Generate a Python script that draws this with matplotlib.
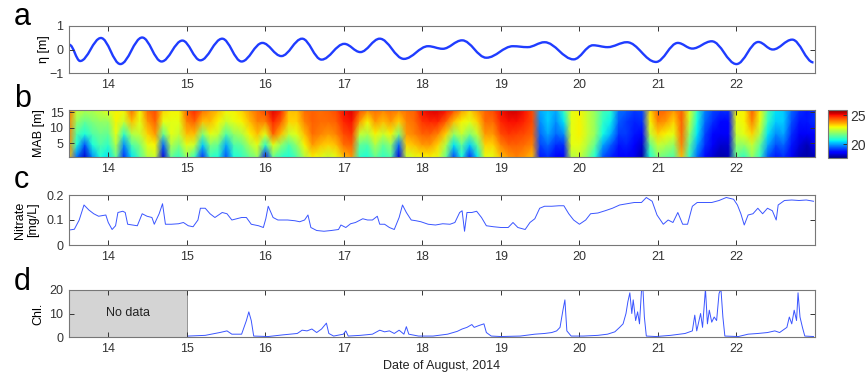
import numpy as np
import matplotlib
matplotlib.use("Agg")
import matplotlib.pyplot as plt
from matplotlib.path import Path
from matplotlib.patches import PathPatch

plt.rcParams['font.family'] = ['Liberation Sans', 'DejaVu Sans']

# ---- a: sea surface elevation, successive highs and lows
tide_day = [13.506, 13.642, 13.907, 14.154, 14.432, 14.679, 14.944, 15.173, 15.451, 15.698,
            15.963, 16.204, 16.469, 16.716, 17.006, 17.210, 17.457, 17.765, 18.074, 18.259,
            18.506, 18.815, 19.154, 19.340, 19.556, 19.926, 20.173, 20.358, 20.605, 20.975,
            21.253, 21.438, 21.685, 22.000, 22.278, 22.463, 22.710, 22.981]
tide_eta = [0.20, -0.49, 0.49, -0.62, 0.51, -0.51, 0.38, -0.46, 0.46, -0.51,
            0.28, -0.28, 0.46, -0.43, 0.24, -0.11, 0.46, -0.40, 0.14, 0.03,
            0.39, -0.35, 0.14, 0.10, 0.31, -0.42, 0.18, 0.10, 0.31, -0.53,
            0.28, 0.04, 0.35, -0.62, 0.32, 0.00, 0.42, -0.55]

# ---- b: temperature by height above bed, one column per 0.1 day from 13.5
mab_levels = [0.5, 4.5, 8.0, 12.0, 15.7]
temp_mab01 = [23.5,19.5,18.2,19.8,20.8,20.5,21.5,19.0,20.5,21.3,
              22.3,22.5,18.3,21.5,21.0,22.0,21.0,19.0,21.0,20.8,
              19.3,20.8,21.0,21.5,22.0,18.8,21.5,21.0,20.8,21.3,
              22.3,23.0,22.8,22.5,22.8,23.5,23.8,21.0,20.8,21.5,
              21.0,21.3,18.3,22.5,22.8,23.0,23.0,22.8,21.5,19.2,
              20.8,19.0,20.5,22.8,22.8,23.5,23.8,24.0,23.8,23.5,
              18.8,19.0,18.5,18.5,22.3,22.5,21.8,20.8,19.3,18.9,
              18.6,18.6,18.4,17.9,20.8,21.8,21.5,21.3,23.5,21.0,
              19.5,18.7,18.2,17.9,18.0,21.5,21.0,22.0,21.0,19.3,
              18.8,19.0,18.5,18.0,17.9,18.0]
temp_mab05 = [23.8,20.8,19.3,20.8,21.3,21.0,22.3,19.8,21.3,21.8,
              22.8,23.0,19.5,22.3,21.8,22.8,22.5,20.3,21.8,21.5,
              20.0,21.3,21.5,22.3,22.8,21.0,22.8,22.0,21.3,22.0,
              23.0,23.8,23.5,23.3,23.5,24.2,24.3,21.5,21.3,22.3,
              21.5,22.0,19.5,23.3,23.5,23.8,23.8,23.3,22.3,20.5,
              21.5,20.3,21.5,23.3,23.3,24.0,24.3,24.3,24.2,24.0,
              19.2,19.5,19.0,19.0,22.8,22.8,22.3,21.5,20.0,19.4,
              18.8,18.9,18.6,18.2,21.5,22.5,22.3,22.0,24.0,21.5,
              20.0,19.0,18.5,18.2,18.2,22.0,22.0,22.5,21.5,20.0,
              19.3,19.5,18.8,18.3,18.0,18.5]
temp_mab08 = [24.0,21.3,20.8,21.3,21.6,21.5,22.8,21.0,22.3,22.5,
              23.3,23.8,21.5,22.8,22.5,23.5,23.5,21.8,22.8,22.5,
              21.3,22.0,22.3,23.0,23.5,22.8,24.3,23.5,22.5,22.8,
              23.5,24.2,24.0,23.8,24.0,24.5,24.7,22.5,22.3,23.0,
              22.5,23.0,21.8,23.8,24.0,24.3,24.3,24.0,23.3,22.0,
              22.5,21.8,22.5,23.8,23.8,24.5,24.7,24.6,24.5,24.3,
              19.5,20.0,19.5,19.8,22.8,23.0,22.5,22.0,20.7,20.1,
              19.1,19.1,18.8,18.7,22.5,23.3,23.0,22.8,24.2,22.0,
              20.5,19.2,18.7,18.5,18.5,22.5,22.8,23.3,22.3,20.5,
              19.8,20.0,19.0,18.5,18.5,18.7]
temp_mab12 = [24.0,22.0,21.5,21.8,22.0,22.0,23.0,22.5,23.5,22.8,
              23.8,24.3,22.8,22.8,22.8,24.0,24.3,23.5,23.5,23.0,
              22.5,22.8,23.0,23.5,24.0,24.0,24.8,24.3,23.3,23.3,
              24.0,24.3,24.2,24.2,24.3,24.8,25.0,23.8,23.0,23.8,
              23.5,23.8,23.3,24.0,24.2,24.7,24.8,24.8,24.3,23.5,
              23.0,22.8,23.3,24.2,24.2,24.8,25.0,25.0,24.8,24.5,
              19.8,20.3,19.8,20.5,22.8,23.0,22.5,22.0,21.0,20.6,
              19.4,19.1,18.9,19.0,23.0,24.0,23.8,23.3,24.3,22.5,
              20.7,19.5,19.0,18.7,18.7,22.8,23.0,24.0,22.8,21.0,
              20.3,20.3,19.3,18.8,18.8,19.0]
temp_mab16 = [24.2,22.5,22.3,22.3,22.5,22.8,23.0,23.0,24.2,23.0,
              24.2,24.5,23.3,23.0,23.0,24.3,24.8,24.2,23.8,23.5,
              23.0,23.0,23.3,23.8,24.2,24.5,25.2,24.8,23.5,23.5,
              24.2,24.3,24.2,24.3,24.5,25.0,25.2,24.5,24.0,24.2,
              24.0,24.2,24.0,24.2,24.3,25.0,25.2,25.2,25.0,24.5,
              23.8,23.3,23.8,24.3,24.5,25.0,25.3,25.3,25.0,24.5,
              20.0,20.3,20.0,21.0,22.8,23.0,22.5,22.0,21.2,20.9,
              19.6,19.4,19.1,19.2,23.3,24.3,24.2,23.8,24.3,22.8,
              21.0,19.7,19.2,19.0,19.0,23.0,23.0,24.3,23.0,21.3,
              20.5,20.3,19.5,19.0,18.8,19.0]

# ---- c: nitrate
nitrate_day = [13.506, 13.568, 13.630, 13.691, 13.753, 13.815, 13.877, 13.969, 14.000, 14.049,
               14.093, 14.123, 14.185, 14.216, 14.247, 14.309, 14.370, 14.432, 14.494, 14.556,
               14.586, 14.648, 14.691, 14.728, 14.802, 14.895, 14.957, 15.019, 15.080, 15.142,
               15.173, 15.235, 15.296, 15.358, 15.451, 15.512, 15.574, 15.636, 15.698, 15.759,
               15.821, 15.914, 15.975, 16.006, 16.037, 16.099, 16.160, 16.222, 16.284, 16.377,
               16.438, 16.500, 16.543, 16.580, 16.654, 16.747, 16.840, 16.932, 16.963, 17.025,
               17.086, 17.148, 17.241, 17.302, 17.364, 17.426, 17.457, 17.519, 17.580, 17.642,
               17.704, 17.747, 17.796, 17.858, 17.920, 17.981, 18.074, 18.167, 18.259, 18.352,
               18.414, 18.475, 18.506, 18.537, 18.568, 18.630, 18.691, 18.753, 18.815, 18.907,
               19.000, 19.093, 19.154, 19.216, 19.309, 19.370, 19.432, 19.494, 19.556, 19.648,
               19.741, 19.802, 19.864, 19.926, 20.000, 20.080, 20.142, 20.235, 20.327, 20.420,
               20.512, 20.605, 20.698, 20.790, 20.852, 20.926, 20.988, 21.068, 21.130, 21.191,
               21.253, 21.315, 21.377, 21.438, 21.500, 21.593, 21.685, 21.778, 21.870, 21.963,
               22.012, 22.056, 22.099, 22.148, 22.210, 22.272, 22.333, 22.395, 22.457, 22.506,
               22.531, 22.611, 22.704, 22.796, 22.889, 22.981]
nitrate = [0.060, 0.063, 0.100, 0.160, 0.140, 0.125, 0.115, 0.120, 0.090, 0.062,
           0.077, 0.130, 0.135, 0.130, 0.083, 0.080, 0.077, 0.125, 0.115, 0.110,
           0.083, 0.125, 0.165, 0.083, 0.083, 0.085, 0.090, 0.077, 0.073, 0.100,
           0.147, 0.147, 0.125, 0.110, 0.130, 0.125, 0.100, 0.105, 0.110, 0.110,
           0.083, 0.077, 0.070, 0.105, 0.155, 0.110, 0.100, 0.100, 0.100, 0.097,
           0.093, 0.100, 0.120, 0.070, 0.058, 0.055, 0.058, 0.062, 0.080, 0.070,
           0.085, 0.090, 0.105, 0.100, 0.100, 0.115, 0.083, 0.083, 0.070, 0.062,
           0.110, 0.160, 0.130, 0.100, 0.097, 0.093, 0.083, 0.080, 0.085, 0.083,
           0.090, 0.130, 0.137, 0.055, 0.130, 0.130, 0.135, 0.110, 0.077, 0.073,
           0.070, 0.070, 0.090, 0.070, 0.062, 0.090, 0.105, 0.147, 0.155, 0.155,
           0.157, 0.157, 0.125, 0.100, 0.083, 0.100, 0.125, 0.128, 0.137, 0.147,
           0.160, 0.165, 0.170, 0.170, 0.190, 0.175, 0.120, 0.083, 0.100, 0.090,
           0.130, 0.083, 0.083, 0.155, 0.170, 0.170, 0.170, 0.178, 0.190, 0.183,
           0.160, 0.125, 0.080, 0.120, 0.125, 0.147, 0.125, 0.147, 0.137, 0.100,
           0.160, 0.178, 0.180, 0.178, 0.180, 0.175]

# ---- d: chlorophyll (record starts on the 15th)
chl_day = [15.019, 15.235, 15.420, 15.512, 15.574, 15.698, 15.759, 15.790, 15.821, 15.852,
           16.037, 16.222, 16.407, 16.469, 16.531, 16.593, 16.654, 16.716, 16.778, 16.809,
           16.870, 16.994, 17.025, 17.056, 17.210, 17.364, 17.457, 17.519, 17.580, 17.642,
           17.704, 17.765, 17.796, 17.827, 17.951, 18.136, 18.321, 18.444, 18.506, 18.568,
           18.630, 18.660, 18.722, 18.784, 18.815, 18.877, 19.000, 19.247, 19.432, 19.556,
           19.648, 19.710, 19.753, 19.790, 19.815, 19.840, 19.895, 20.049, 20.235, 20.358,
           20.451, 20.512, 20.556, 20.593, 20.617, 20.642, 20.667, 20.685, 20.716, 20.741,
           20.765, 20.790, 20.809, 20.827, 20.852, 20.975, 21.160, 21.346, 21.438, 21.469,
           21.494, 21.543, 21.568, 21.605, 21.630, 21.654, 21.685, 21.716, 21.747, 21.778,
           21.802, 21.827, 21.852, 22.025, 22.148, 22.272, 22.395, 22.488, 22.549, 22.642,
           22.673, 22.704, 22.735, 22.765, 22.784, 22.809, 22.840, 22.870, 22.981]
chl = [0.4, 0.7, 1.9, 2.6, 1.2, 1.2, 7.0, 10.7, 7.0, 0.4,
       0.2, 0.9, 1.5, 2.9, 2.6, 3.4, 1.9, 3.4, 5.9, 1.5,
       0.4, 1.2, 2.6, 0.4, 0.7, 1.2, 2.9, 2.2, 2.6, 1.5,
       2.9, 1.2, 4.4, 1.2, 0.4, 0.4, 1.2, 2.4, 3.4, 4.1,
       5.3, 4.1, 4.9, 5.6, 1.9, 0.4, 0.2, 0.4, 1.2, 1.5,
       1.9, 2.6, 4.1, 11.4, 15.8, 2.6, 0.4, 0.4, 0.7, 1.2,
       2.2, 4.1, 5.6, 10.0, 15.0, 18.8, 10.0, 15.8, 7.0, 10.7,
       5.6, 19.5, 20.5, 8.5, 0.4, 0.2, 0.7, 1.5, 2.6, 9.3,
       2.6, 10.0, 4.1, 20.5, 5.6, 11.4, 6.3, 8.5, 7.0, 18.5,
       20.5, 8.5, 0.4, 0.2, 1.2, 1.5, 1.9, 2.6, 1.9, 4.1,
       8.5, 5.6, 11.4, 7.0, 18.8, 8.5, 4.1, 0.4, 0.2]

day_ticks = [14, 15, 16, 17, 18, 19, 20, 21, 22]

W, H = 865, 375
fig = plt.figure(figsize=(W / 100, H / 100), dpi=100)


def axes_px(left, top, right, bottom):
    return fig.add_axes([left / W, 1 - bottom / H, (right - left) / W, (bottom - top) / H])


def style(ax):
    ax.set_xlim(13.5, 23.0)
    ax.set_xticks(day_ticks)
    ax.tick_params(direction='in', top=True, right=True, length=3.5, width=0.7,
                   labelsize=9, colors='#333333', pad=4)
    for s in ax.spines.values():
        s.set_color('#777777')
        s.set_linewidth(0.8)


line_blue = '#1f3cff'

# panel a
ax_a = axes_px(69, 26, 815, 73)
k = 0.364
verts = [(tide_day[0], tide_eta[0])]
codes = [Path.MOVETO]
for i in range(len(tide_day) - 1):
    dt = tide_day[i + 1] - tide_day[i]
    verts += [(tide_day[i] + k * dt, tide_eta[i]),
              (tide_day[i + 1] - k * dt, tide_eta[i + 1]),
              (tide_day[i + 1], tide_eta[i + 1])]
    codes += [Path.CURVE4] * 3
ax_a.add_patch(PathPatch(Path(verts, codes), fill=False, ec=line_blue, lw=1.7))
style(ax_a)
ax_a.set_ylim(-1, 1)
ax_a.set_yticks([-1, 0, 1])
ax_a.set_ylabel('η [m]', fontsize=9, va='center')
ax_a.yaxis.set_label_coords(-0.034, 0.5)

# panel b
ax_b = axes_px(69, 110, 815, 157)
grid_day = 13.5 + 0.1 * np.arange(len(temp_mab01))
temp = np.array([temp_mab01, temp_mab05, temp_mab08, temp_mab12, temp_mab16])
mesh = ax_b.pcolormesh(grid_day, mab_levels, temp, shading='gouraud', cmap='jet',
                       vmin=17.6, vmax=25.9, rasterized=True)
style(ax_b)
ax_b.set_ylim(0.5, 15.7)
ax_b.set_yticks([5, 10, 15])
ax_b.set_ylabel('MAB [m]', fontsize=9, va='center')
ax_b.yaxis.set_label_coords(-0.040, 0.5)

cax = axes_px(828, 110, 847, 158)
cb = fig.colorbar(mesh, cax=cax, ticks=[20, 25])
cb.ax.tick_params(direction='in', length=3, width=0.7, labelsize=10, colors='#333333', pad=2)
cb.outline.set_edgecolor('#777777')
cb.outline.set_linewidth(0.8)

# panel c
ax_c = axes_px(69, 195, 815, 245)
ax_c.plot(nitrate_day, nitrate, color='#3a55ff', lw=0.7)
style(ax_c)
ax_c.set_ylim(0, 0.2)
ax_c.set_yticks([0, 0.1, 0.2])
ax_c.set_yticklabels(['0', '0.1', '0.2'])
ax_c.set_ylabel('Nitrate\n[mg/L]', fontsize=9, va='center', linespacing=1.1)
ax_c.yaxis.set_label_coords(-0.057, 0.5)

# panel d
ax_d = axes_px(69, 290, 815, 337)
ax_d.axvspan(13.5, 15.0, color='#d4d4d4', ec='#888888', lw=0.6, zorder=0)
ax_d.text(14.25, 10, 'No data', ha='center', va='center', fontsize=9, color='#222222')
ax_d.plot(chl_day, chl, color='#3a55ff', lw=0.7)
style(ax_d)
ax_d.set_ylim(0, 20)
ax_d.set_yticks([0, 10, 20])
ax_d.set_ylabel('Chl.', fontsize=9, va='center')
ax_d.yaxis.set_label_coords(-0.041, 0.5)
ax_d.set_xlabel('Date of August, 2014', fontsize=9, color='#222222', labelpad=4)

for letter, base in zip('abcd', [25, 107, 188, 290]):
    fig.text(14 / W, 1 - base / H, letter, fontsize=22, va='baseline', ha='left')

fig.savefig('out.png', dpi=100)
